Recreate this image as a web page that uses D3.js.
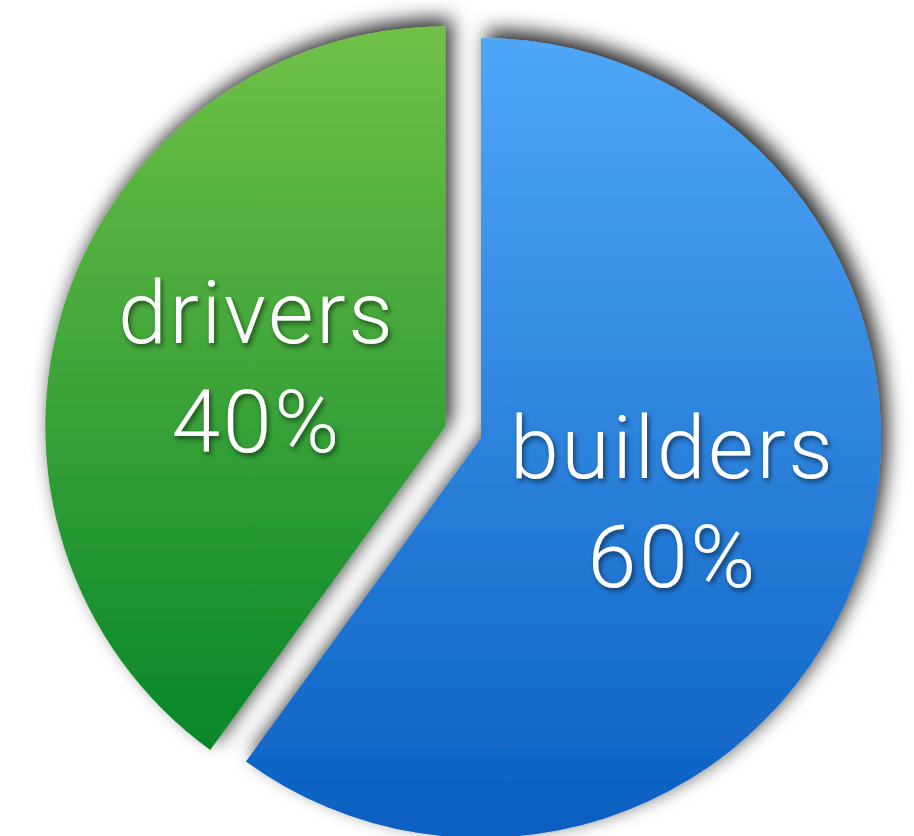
<!DOCTYPE html>
<html>
<head>
<meta charset="utf-8">
<script src="https://cdn.jsdelivr.net/npm/d3@7"></script>
<style>
  html, body { margin: 0; padding: 0; background: #fff; }
  svg { display: block; }
</style>
</head>
<body>
<svg id="chart" width="914" height="836"></svg>
<script>
// ---- data ----
const categories = ["builders", "drivers"];
const values = [60, 40];
const percentLabels = ["60%", "40%"];
const topColors = ["#4fa7f8", "#71c147"];
const bottomColors = ["#0a5fc1", "#07862a"];

// ---- layout ----
const W = 914, H = 836;
const cx = 481, cy = 438, R = 400, explode = 37.5, labelR = 200;

const svg = d3.select("#chart");
const defs = svg.append("defs");

const shadow = defs.append("filter").attr("id", "sliceShadow")
  .attr("x", "-20%").attr("y", "-20%").attr("width", "140%").attr("height", "140%");
shadow.append("feDropShadow")
  .attr("dx", 6).attr("dy", -8).attr("stdDeviation", 10)
  .attr("flood-color", "#000").attr("flood-opacity", 0.85);

const tshadow = defs.append("filter").attr("id", "textShadow")
  .attr("x", "-20%").attr("y", "-20%").attr("width", "140%").attr("height", "140%");
tshadow.append("feDropShadow")
  .attr("dx", 2).attr("dy", 3).attr("stdDeviation", 2.5)
  .attr("flood-color", "#000").attr("flood-opacity", 0.55);

categories.forEach((c, i) => {
  const g = defs.append("linearGradient").attr("id", "grad" + i)
    .attr("x1", 0).attr("y1", 0).attr("x2", 0).attr("y2", 1);
  g.append("stop").attr("offset", "0%").attr("stop-color", topColors[i]);
  g.append("stop").attr("offset", "100%").attr("stop-color", bottomColors[i]);
});

const data = categories.map((c, i) => ({ name: c, value: values[i], pct: percentLabels[i], i }));
const pie = d3.pie().value(d => d.value).sort(null);
const arcs = pie(data);
const arc = d3.arc().innerRadius(0).outerRadius(R);
const labelArc = d3.arc().innerRadius(labelR).outerRadius(labelR);

const root = svg.append("g").attr("transform", `translate(${cx},${cy})`);

function offset(d) {
  if (d.index === 0) return [0, 0];
  const a = (d.startAngle + d.endAngle) / 2;
  return [Math.sin(a) * explode, -Math.cos(a) * explode];
}

const slices = root.selectAll("g.slice").data(arcs).enter().append("g")
  .attr("class", "slice")
  .attr("transform", d => { const o = offset(d); return `translate(${o[0]},${o[1]})`; });

slices.append("path")
  .attr("d", arc)
  .attr("fill", d => `url(#grad${d.data.i})`)
  .attr("filter", "url(#sliceShadow)");

const labels = slices.append("text")
  .attr("transform", d => { const c = labelArc.centroid(d); return `translate(${c[0] + 1.5},${c[1]})`; })
  .attr("text-anchor", "middle")
  .attr("fill", "#fff")
  .attr("font-family", "'Helvetica Neue', Roboto, 'Open Sans', sans-serif")
  .attr("font-weight", 300)
  .attr("font-size", 88)
  .attr("letter-spacing", 2.5)
  .attr("filter", "url(#textShadow)");

labels.append("tspan").attr("x", 0).attr("y", -22).text(d => d.data.name);
labels.append("tspan").attr("x", 0).attr("y", 87).text(d => d.data.pct);
</script>
</body>
</html>
